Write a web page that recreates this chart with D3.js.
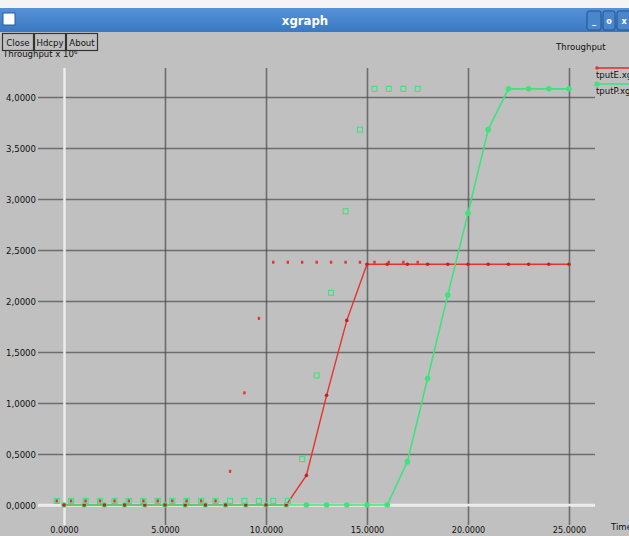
<!DOCTYPE html>
<html>
<head>
<meta charset="utf-8">
<script src="https://cdn.jsdelivr.net/npm/d3@7"></script>
<style>
  body { margin: 0; background: #f2f2f2; }
  svg { display: block; }
  text { font-family: "DejaVu Sans Condensed", "DejaVu Sans", sans-serif; }
</style>
</head>
<body>
<div id="vis-container"></div>
<script>
// time values of the two line series
var timeX = [0, 1, 2, 3, 4, 5, 6, 7, 8, 9, 10, 11, 12, 13, 14, 15, 16, 17, 18, 19, 20, 21, 22, 23, 24, 25];
var tputE = [0, 0, 0, 0, 0, 0, 0, 0, 0, 0, 0, 0, 0.29, 1.075, 1.81, 2.36, 2.36, 2.36, 2.36, 2.36, 2.36, 2.36, 2.36, 2.36, 2.36, 2.36];
var tputP = [0, 0, 0, 0, 0, 0, 0, 0, 0, 0, 0, 0, 0, 0, 0, 0, 0, 0.425, 1.24, 2.06, 2.86, 3.68, 4.08, 4.08, 4.08, 4.08];

// the loose markers (no lines)
var scatterX = [-0.36, 0.35, 1.07, 1.78, 2.50, 3.21, 3.93, 4.64, 5.36, 6.07, 6.79, 7.50, 8.22, 8.93, 9.65, 10.36, 11.08, 11.79, 12.51, 13.22, 13.94, 14.65, 15.37, 16.08, 16.80, 17.51];
var scatterE = [0.04, 0.04, 0.04, 0.04, 0.04, 0.04, 0.04, 0.04, 0.04, 0.04, 0.04, 0.04, 0.33, 1.10, 1.83, 2.38, 2.38, 2.38, 2.38, 2.38, 2.38, 2.38, 2.38, 2.38, 2.38, 2.38];
var scatterP = [0.04, 0.04, 0.04, 0.04, 0.04, 0.04, 0.04, 0.04, 0.04, 0.04, 0.04, 0.04, 0.04, 0.04, 0.04, 0.04, 0.04, 0.45, 1.27, 2.08, 2.88, 3.68, 4.08, 4.08, 4.08, 4.08];

// ticks
var xTicks = [0, 5, 10, 15, 20, 25];
var yTicks = [0, 0.5, 1, 1.5, 2, 2.5, 3, 3.5, 4];
var legendNames = ["tputE.xgr", "tputP.xgr"];

var width = 629, height = 536;
var red = "#e8322f", green = "#3fe37d";

var svg = d3.select("#vis-container").append("svg")
	.attr("width", width)
	.attr("height", height);

// window body
svg.append("rect").attr("x", 0).attr("y", 0).attr("width", width).attr("height", height).attr("fill", "#f4f4f4");
svg.append("rect").attr("x", 0).attr("y", 31).attr("width", width).attr("height", height - 31).attr("fill", "#c0c0c0");

// title bar
var grad = svg.append("defs").append("linearGradient").attr("id", "tb").attr("x1", 0).attr("y1", 0).attr("x2", 0).attr("y2", 1);
grad.append("stop").attr("offset", "0%").attr("stop-color", "#5592d8");
grad.append("stop").attr("offset", "100%").attr("stop-color", "#3a78c2");
svg.append("rect").attr("x", 0).attr("y", 8).attr("width", width).attr("height", 24).attr("fill", "url(#tb)");
svg.append("rect").attr("x", 3).attr("y", 13).attr("width", 12).attr("height", 12).attr("fill", "#ffffff").attr("stroke", "#2a5a9a");
svg.append("text").attr("x", 305).attr("y", 25).attr("text-anchor", "middle")
	.attr("fill", "#ffffff").attr("font-weight", "bold").attr("font-size", 13).text("xgraph");
var winBtns = [{x: 587, w: 14, t: "_"}, {x: 603, w: 12, t: "o"}, {x: 617, w: 14, t: "x"}];
winBtns.forEach(function(b) {
	svg.append("rect").attr("x", b.x).attr("y", 11).attr("width", b.w).attr("height", 19).attr("rx", 2)
		.attr("fill", "#4a86cc").attr("stroke", "#24528e");
	svg.append("text").attr("x", b.x + b.w / 2).attr("y", 24).attr("text-anchor", "middle")
		.attr("fill", "#ffffff").attr("font-weight", "bold").attr("font-size", 9).text(b.t);
});

// axis label under the buttons
svg.append("text").attr("x", 3).attr("y", 57).attr("font-size", 9.5).attr("fill", "#111").text("Throughput x 10\u2076");

// buttons
var btns = [{x: 2, w: 31, t: "Close"}, {x: 34, w: 31, t: "Hdcpy"}, {x: 66, w: 31, t: "About"}];
btns.forEach(function(b) {
	svg.append("rect").attr("x", b.x + 0.5).attr("y", 33.5).attr("width", b.w).attr("height", 17)
		.attr("fill", "#c0c0c0").attr("stroke", "#333").attr("stroke-width", 1.2);
	svg.append("text").attr("x", b.x + b.w / 2 + 0.5).attr("y", 46).attr("text-anchor", "middle")
		.attr("font-size", 9.5).attr("fill", "#111").text(b.t);
});
svg.append("text").attr("x", 556).attr("y", 50).attr("font-size", 9.5).attr("fill", "#111").text("Throughput");

// scales
var x = d3.scaleLinear().domain([0, 25]).range([64, 569]);
var y = d3.scaleLinear().domain([0, 4]).range([505, 97]);

// y axis with grid
var yAxis = svg.append("g").attr("transform", "translate(38,0)")
	.call(d3.axisLeft(y).tickValues(yTicks).tickSize(-(595 - 38)).tickPadding(2)
		.tickFormat(function(d) { return d3.format(".4f")(d).replace(".", ","); }));
yAxis.select(".domain").remove();
yAxis.selectAll(".tick line").attr("stroke", "#4a4a4a").attr("stroke-width", 1.6).attr("stroke-opacity", 0.7);
yAxis.selectAll(".tick text").attr("font-size", 9.5).attr("fill", "#111").attr("font-family", "DejaVu Sans Condensed");
yAxis.selectAll(".tick").filter(function(d) { return d === 0; }).select("line")
	.attr("stroke", "#ececec").attr("stroke-opacity", 1).attr("stroke-width", 2.5);

// x axis with grid
var xAxis = svg.append("g").attr("transform", "translate(0,525)")
	.call(d3.axisBottom(x).tickValues(xTicks).tickSize(-(525 - 68)).tickPadding(2)
		.tickFormat(d3.format(".4f")));
xAxis.select(".domain").remove();
xAxis.selectAll(".tick line").attr("stroke", "#4a4a4a").attr("stroke-width", 1.6).attr("stroke-opacity", 0.7);
xAxis.selectAll(".tick text").attr("font-size", 9).attr("fill", "#111").attr("font-family", "DejaVu Sans Condensed");
xAxis.selectAll(".tick").filter(function(d) { return d === 0; }).select("line")
	.attr("stroke", "#ececec").attr("stroke-opacity", 1).attr("stroke-width", 2.5);
// redraw the zero row on top of vertical grid lines
svg.append("line").attr("x1", 38).attr("x2", 595).attr("y1", y(0)).attr("y2", y(0))
	.attr("stroke", "#ececec").attr("stroke-width", 2.5);

svg.append("text").attr("x", 611).attr("y", 530).attr("font-size", 9.5).attr("fill", "#111").text("Time");

// line series
var line = d3.line().x(function(d, i) { return x(timeX[i]); }).y(function(d) { return y(d); });
svg.append("path").attr("d", line(tputE)).attr("fill", "none").attr("stroke", red).attr("stroke-width", 1.4);
svg.append("path").attr("d", line(tputP)).attr("fill", "none").attr("stroke", green).attr("stroke-width", 1.6);

svg.append("g").selectAll("circle").data(tputP).enter().append("circle")
	.attr("cx", function(d, i) { return x(timeX[i]); })
	.attr("cy", function(d) { return y(d); })
	.attr("r", 2.8).attr("fill", green);
svg.append("g").selectAll("circle").data(tputE).enter().append("circle")
	.attr("cx", function(d, i) { return x(timeX[i]); })
	.attr("cy", function(d) { return y(d); })
	.attr("r", 1.8).attr("fill", "#c42020");

// loose markers
svg.append("g").selectAll("rect").data(scatterP).enter().append("rect")
	.attr("x", function(d, i) { return x(scatterX[i]) - 2.5; })
	.attr("y", function(d) { return y(d) - 2.5; })
	.attr("width", 5).attr("height", 5)
	.attr("fill", "none").attr("stroke", green).attr("stroke-width", 1.1);
svg.append("g").selectAll("rect").data(scatterE).enter().append("rect")
	.attr("x", function(d, i) { return x(scatterX[i]) - 1.2; })
	.attr("y", function(d) { return y(d) - 1.5; })
	.attr("width", 2.4).attr("height", 3)
	.attr("fill", red);

// legend
var legendColors = [red, green];
legendNames.forEach(function(name, i) {
	var ly = 68 + i * 16;
	svg.append("line").attr("x1", 597).attr("x2", width).attr("y1", ly).attr("y2", ly)
		.attr("stroke", legendColors[i]).attr("stroke-width", 1.6);
	svg.append("circle").attr("cx", 597).attr("cy", ly).attr("r", i === 0 ? 1.8 : 2.6).attr("fill", legendColors[i]);
	svg.append("text").attr("x", 596).attr("y", ly + 10).attr("font-size", 9.5).attr("fill", "#111").text(name);
});
</script>
</body>
</html>
